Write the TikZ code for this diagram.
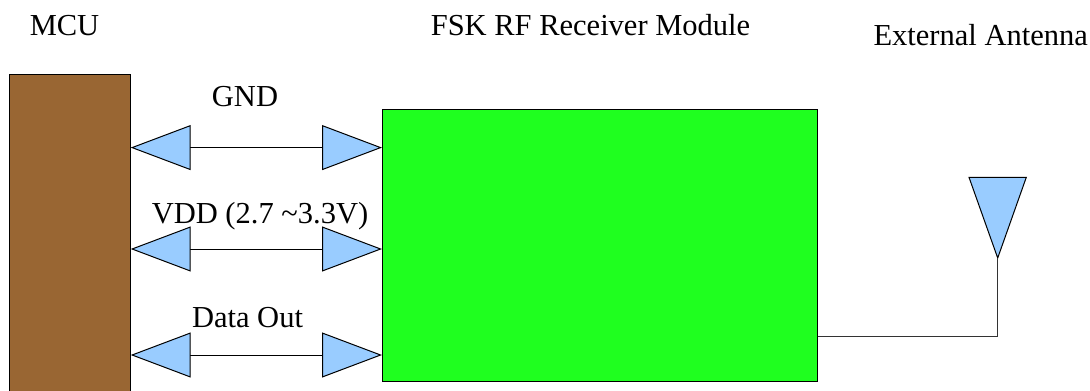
\documentclass[tikz,border=0pt]{standalone}
\usepackage{fontspec}
\setmainfont{Liberation Serif}
\usetikzlibrary{arrows.meta}
\definecolor{mcubrown}{HTML}{996633}
\definecolor{modgreen}{HTML}{1FFF1F}
\definecolor{tipblue}{HTML}{99CCFF}
\tikzset{
  lbl/.style={font=\fontsize{30.5}{36}\selectfont, inner sep=0pt},
  box/.style={draw=black, line width=1pt, inner sep=0pt},
  bus/.style={line width=1pt, draw=black,
    {Triangle[length=60pt,width=45pt,fill=tipblue]}-{Triangle[length=60pt,width=45pt,fill=tipblue]}},
  wire/.style={line width=1pt, draw=black!80},
}
\begin{document}
\begin{tikzpicture}[x=1pt,y=-1pt]
\useasboundingbox (0,0) rectangle (1090,391);
\clip (0,0) rectangle (1090,391);
% boxes
\draw[box, fill=mcubrown] (9.3,74.3) rectangle (130.7,400);
\node[box, fill=modgreen, minimum width=434.7pt, minimum height=271.7pt, anchor=north west] (mod) at (382,109.3) {};
\coordinate (mcuR) at (130.7,74.3);
% titles
\node[lbl, anchor=base] (tmcu) at (64.5,35) {MCU};
\node[lbl, anchor=base] (tmod) at (590.5,35) {FSK RF Receiver Module};
\node[lbl, anchor=base east] (tant) at (1088,45) {External Antenna};
% buses
\coordinate (g1) at (130.7,147.6);
\coordinate (v1) at (130.7,249);
\coordinate (d1) at (130.7,355);
\draw[bus] (g1) -- (mod.west |- g1);
\draw[bus] (v1) -- (mod.west |- v1);
\draw[bus] (d1) -- (mod.west |- d1);
\node[lbl, anchor=base] (lgnd) at (245,106.7) {GND};
\node[lbl, anchor=base] (lvdd) at (260,223) {VDD (2.7 \textasciitilde3.3V)};
\node[lbl, anchor=base] (ldata) at (247.5,327) {Data Out};
% antenna
\coordinate (anttip) at (997.7,258);
\draw[line width=1pt, fill=tipblue] (969,177.3) -- (1026.3,177.3) -- (anttip) -- cycle;
\draw[wire] (mod.east |- 0,336.7) -| (anttip);
\end{tikzpicture}
\end{document}
